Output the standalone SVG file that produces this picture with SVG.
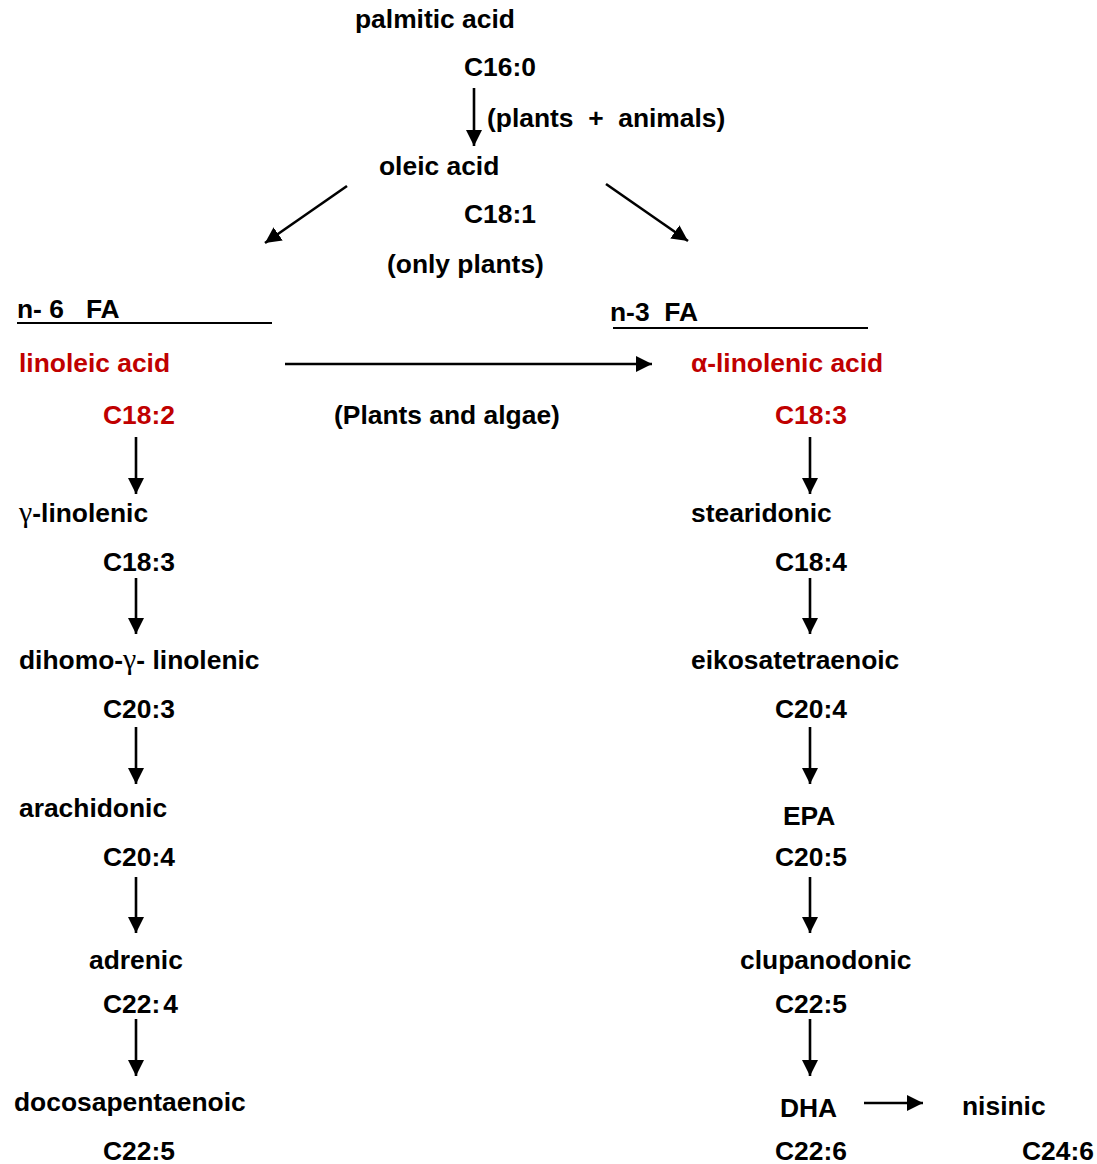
<svg xmlns="http://www.w3.org/2000/svg" width="1097" height="1164" viewBox="0 0 1097 1164">
<style>
text{font-family:"Liberation Sans",Arial,sans-serif;font-weight:bold;font-size:26.4px;fill:#000}
.red{fill:#C00000}
.g{font-family:"Liberation Serif","Times New Roman",serif;font-weight:normal;font-size:30px}
.c line{stroke:#000;stroke-width:2.6;marker-end:url(#ah)}
.u{stroke:#000;stroke-width:2}
</style>
<defs>
<marker id="ah" markerUnits="userSpaceOnUse" viewBox="0 0 16 16" refX="16" refY="8" markerWidth="16" markerHeight="16" orient="auto">
<path d="M0,0 L16,8 L0,16 Z" fill="#000"/>
</marker>
</defs>
<rect width="1097" height="1164" fill="#fff"/>
<g id="palmitic"><text x="355" y="28">palmitic acid</text><text x="464" y="76">C16:0</text></g>
<g id="oleic"><text x="379" y="175">oleic acid</text><text x="464" y="223">C18:1</text></g>
<g id="lbl-pa"><text x="487" y="127" xml:space="preserve">(plants  +  animals)</text></g>
<g id="lbl-op"><text x="387" y="273">(only plants)</text></g>
<g id="lbl-pla"><text x="334" y="424">(Plants and algae)</text></g>
<g id="n6"><text x="17" y="318" xml:space="preserve">n- 6   FA</text><line class="u" x1="17" y1="323" x2="272" y2="323"/></g>
<g id="n3"><text x="610" y="321" xml:space="preserve">n-3  FA</text><line class="u" x1="613" y1="328" x2="868" y2="328"/></g>
<g id="linoleic"><text class="red" x="19" y="372">linoleic acid</text><text class="red" x="103" y="424">C18:2</text></g>
<g id="alinolenic"><text class="red" x="691" y="372">α-linolenic acid</text><text class="red" x="775" y="424">C18:3</text></g>
<g id="glinolenic"><text x="19" y="522"><tspan class="g">γ</tspan>-linolenic</text><text x="103" y="571">C18:3</text></g>
<g id="stearidonic"><text x="691" y="522">stearidonic</text><text x="775" y="571">C18:4</text></g>
<g id="dihomo"><text x="19" y="669">dihomo-<tspan class="g">γ</tspan>- linolenic</text><text x="103" y="718">C20:3</text></g>
<g id="eikosa"><text x="691" y="669">eikosatetraenoic</text><text x="775" y="718">C20:4</text></g>
<g id="arachidonic"><text x="19" y="817">arachidonic</text><text x="103" y="866">C20:4</text></g>
<g id="epa"><text x="783" y="825">EPA</text><text x="775" y="866">C20:5</text></g>
<g id="adrenic"><text x="89" y="969">adrenic</text><text x="103" y="1013">C22:<tspan dx="3">4</tspan></text></g>
<g id="clupanodonic"><text x="740" y="969">clupanodonic</text><text x="775" y="1013">C22:5</text></g>
<g id="docosapentaenoic"><text x="14" y="1111">docosapentaenoic</text><text x="103" y="1160">C22:5</text></g>
<g id="dha"><text x="780" y="1117">DHA</text><text x="775" y="1160">C22:6</text></g>
<g id="nisinic"><text x="962" y="1115">nisinic</text><text x="1022" y="1160">C24:6</text></g>
<g id="connectors" class="c">
<line x1="474" y1="88" x2="474" y2="146"/>
<line x1="347" y1="186" x2="265" y2="243"/>
<line x1="606" y1="184" x2="688" y2="241"/>
<line x1="285" y1="364" x2="652" y2="364"/>
<line x1="136" y1="437" x2="136" y2="494"/>
<line x1="810" y1="437" x2="810" y2="494"/>
<line x1="136" y1="578" x2="136" y2="634"/>
<line x1="810" y1="578" x2="810" y2="634"/>
<line x1="136" y1="727" x2="136" y2="784"/>
<line x1="810" y1="727" x2="810" y2="784"/>
<line x1="136" y1="877" x2="136" y2="933"/>
<line x1="810" y1="877" x2="810" y2="933"/>
<line x1="136" y1="1019" x2="136" y2="1076"/>
<line x1="810" y1="1019" x2="810" y2="1076"/>
<line x1="864" y1="1103" x2="923" y2="1103"/>
</g>
</svg>
